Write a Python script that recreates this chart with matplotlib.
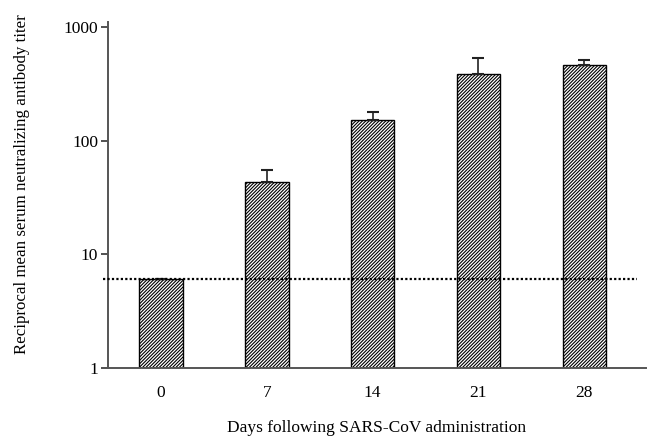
import numpy as np
import matplotlib.pyplot as plt

plt.rcParams['font.family'] = ['Liberation Serif', 'DejaVu Serif']
plt.rcParams['hatch.linewidth'] = 0.8
plt.rcParams['hatch.color'] = '#333333'

# Data
days = ['0', '7', '14', '21', '28']
titer = [6, 43, 152, 385, 462]
titer_err = [0, 12, 26, 147, 50]
detection_limit = 6

fig = plt.figure(figsize=(6.47, 4.38), dpi=100)
ax = fig.add_axes([0.167, 0.160, 0.831, 0.790])

x = np.arange(len(days))
ax.bar(x, titer, width=0.41, color='white', edgecolor='black', linewidth=1.0,
       hatch='//////////', zorder=2)
ax.errorbar(x, titer, yerr=[np.zeros(len(x)), titer_err], fmt='none',
            ecolor='#222222', elinewidth=1.2, capsize=4.5, capthick=1.5, zorder=3)

# detection limit
ax.axhline(detection_limit, xmin=-0.01, xmax=0.983, color='black', lw=1.6,
           linestyle=(0, (1, 1)), clip_on=False, zorder=4)

ax.set_yscale('log')
ax.set_ylim(1, 1106)
ax.set_xlim(-0.5, 4.58)
ax.set_yticks([1, 10, 100, 1000])
ax.set_yticklabels(['1', '10', '100', '1000'])
ax.minorticks_off()
ax.set_xticks(x)
ax.set_xticklabels(days)

for s in ['top', 'right']:
    ax.spines[s].set_visible(False)
for s in ['left', 'bottom']:
    ax.spines[s].set_color('#555555')
    ax.spines[s].set_linewidth(1.4)

ax.tick_params(axis='y', direction='out', length=5, width=1.2, color='#333333',
               labelsize=12.5, pad=2)
ax.tick_params(axis='x', length=0, labelsize=12.5, pad=12)

ax.set_xlabel('Days following SARS-CoV administration', fontsize=12.5, labelpad=14)
ax.set_ylabel('Reciprocal mean serum neutralizing antibody titer', fontsize=12.2)
ax.yaxis.set_label_coords(-0.145, 0.53)

fig.savefig('out.png', dpi=100)
